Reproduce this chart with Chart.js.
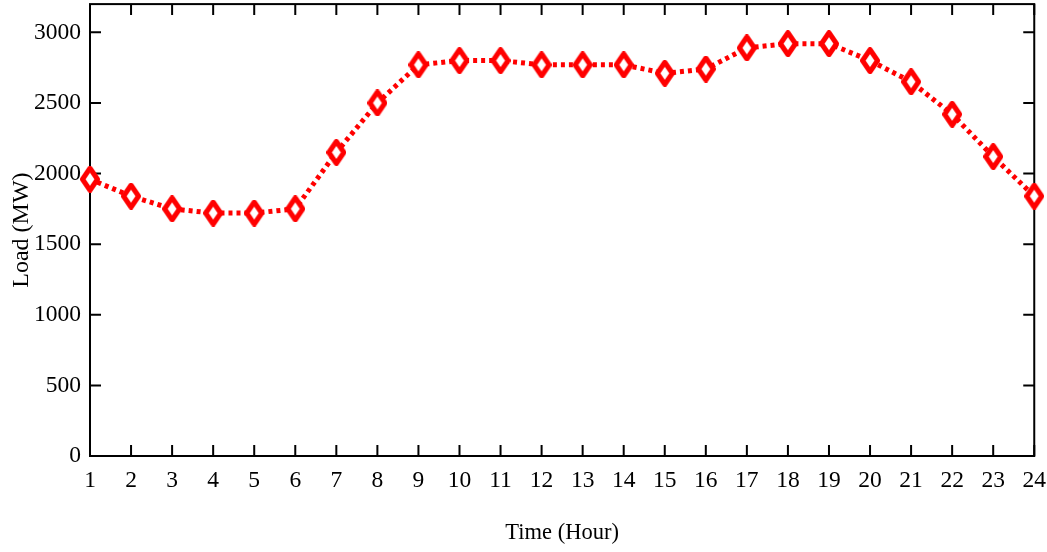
<!DOCTYPE html>
<html>
<head>
<meta charset="utf-8">
<script src="https://cdn.jsdelivr.net/npm/chart.js@4/dist/chart.umd.min.js"></script>
<style>
  html, body { margin: 0; padding: 0; background: #fff; overflow: hidden; }
  /* the label overhang reserves space above and right of the plot; shift the canvas to use it */
  #wrap { position: absolute; left: 0; top: -19px; width: 1057px; height: 571px; }
</style>
</head>
<body>
<div id="wrap"><canvas id="chartLoad"></canvas></div>
<script>
// Hourly load profile
const hours = [1, 2, 3, 4, 5, 6, 7, 8, 9, 10, 11, 12, 13, 14, 15, 16, 17, 18, 19, 20, 21, 22, 23, 24];
const loadMW = [1960, 1840, 1750, 1720, 1720, 1750, 2150, 2500, 2770, 2800, 2800, 2770,
                2770, 2770, 2710, 2740, 2890, 2920, 2920, 2800, 2650, 2420, 2120, 1840];
const yTicks = [0, 500, 1000, 1500, 2000, 2500, 3000];

const RED = '#ff0000';
const FONT = '"Liberation Serif", "Times New Roman", serif';

// Tall diamond marker, red outline on white
function makeDiamond() {
    const w = 20, h = 27, lw = 5;
    const c = document.createElement('canvas');
    c.width = w; c.height = h;
    const g = c.getContext('2d');
    g.beginPath();
    g.moveTo(w / 2, lw / 2);
    g.lineTo(w - lw / 2, h / 2);
    g.lineTo(w / 2, h - lw / 2);
    g.lineTo(lw / 2, h / 2);
    g.closePath();
    g.fillStyle = '#fff';
    g.fill();
    g.lineWidth = lw;
    g.strokeStyle = RED;
    g.lineJoin = 'round';
    g.stroke();
    return c;
}

// Frame round the plot area with inward ticks on all four sides
const framePlugin = {
    id: 'frame',
    beforeDatasetsDraw(chart) {
        const { ctx, chartArea: a, scales } = chart;
        const len = 11;
        ctx.save();
        ctx.strokeStyle = '#000';
        ctx.lineWidth = 2;
        ctx.strokeRect(a.left, a.top, a.right - a.left, a.bottom - a.top);
        ctx.beginPath();
        hours.forEach(h => {
            const x = scales.x.getPixelForValue(h);
            ctx.moveTo(x, a.bottom); ctx.lineTo(x, a.bottom - len);
            ctx.moveTo(x, a.top); ctx.lineTo(x, a.top + len);
        });
        yTicks.forEach(v => {
            const y = scales.y.getPixelForValue(v);
            ctx.moveTo(a.left, y); ctx.lineTo(a.left + len, y);
            ctx.moveTo(a.right, y); ctx.lineTo(a.right - len, y);
        });
        ctx.stroke();
        ctx.restore();
    }
};

new Chart(document.getElementById('chartLoad'), {
    type: 'line',
    data: {
        datasets: [{
            data: hours.map((h, i) => ({ x: h, y: loadMW[i] })),
            borderColor: RED,
            borderWidth: 5,
            borderDash: [4, 4],
            borderCapStyle: 'butt',
            pointStyle: makeDiamond(),
            pointRadius: 12,
            pointHoverRadius: 12,
            clip: false,
            tension: 0
        }]
    },
    options: {
        responsive: true,
        maintainAspectRatio: false,
        animation: false,
        events: [],
        layout: { padding: 0 },
        plugins: { legend: { display: false }, tooltip: { enabled: false } },
        scales: {
            x: {
                type: 'linear',
                min: 1,
                max: 24,
                afterBuildTicks: s => { s.ticks = hours.map(v => ({ value: v })); },
                afterFit: s => { s.height = 96; },
                grid: { display: false, drawTicks: false },
                border: { display: false },
                ticks: {
                    color: '#000',
                    padding: 11,
                    maxRotation: 0,
                    autoSkip: false,
                    font: { family: FONT, size: 23.5 },
                    callback: v => String(v)
                },
                title: {
                    display: true,
                    text: 'Time (Hour)',
                    color: '#000',
                    padding: { top: 0, bottom: 5 },
                    font: { family: FONT, size: 22.5 }
                }
            },
            y: {
                min: 0,
                max: 3200,
                afterBuildTicks: s => { s.ticks = yTicks.map(v => ({ value: v })); },
                afterFit: s => { s.width = 90; },
                grid: { display: false, drawTicks: false },
                border: { display: false },
                ticks: {
                    color: '#000',
                    padding: 9,
                    font: { family: FONT, size: 23.5 },
                    callback: v => String(v)
                },
                title: {
                    display: true,
                    text: 'Load (MW)',
                    color: '#000',
                    padding: { top: 7, bottom: 0 },
                    font: { family: FONT, size: 24 }
                }
            }
        }
    },
    plugins: [framePlugin]
});
</script>
</body>
</html>
